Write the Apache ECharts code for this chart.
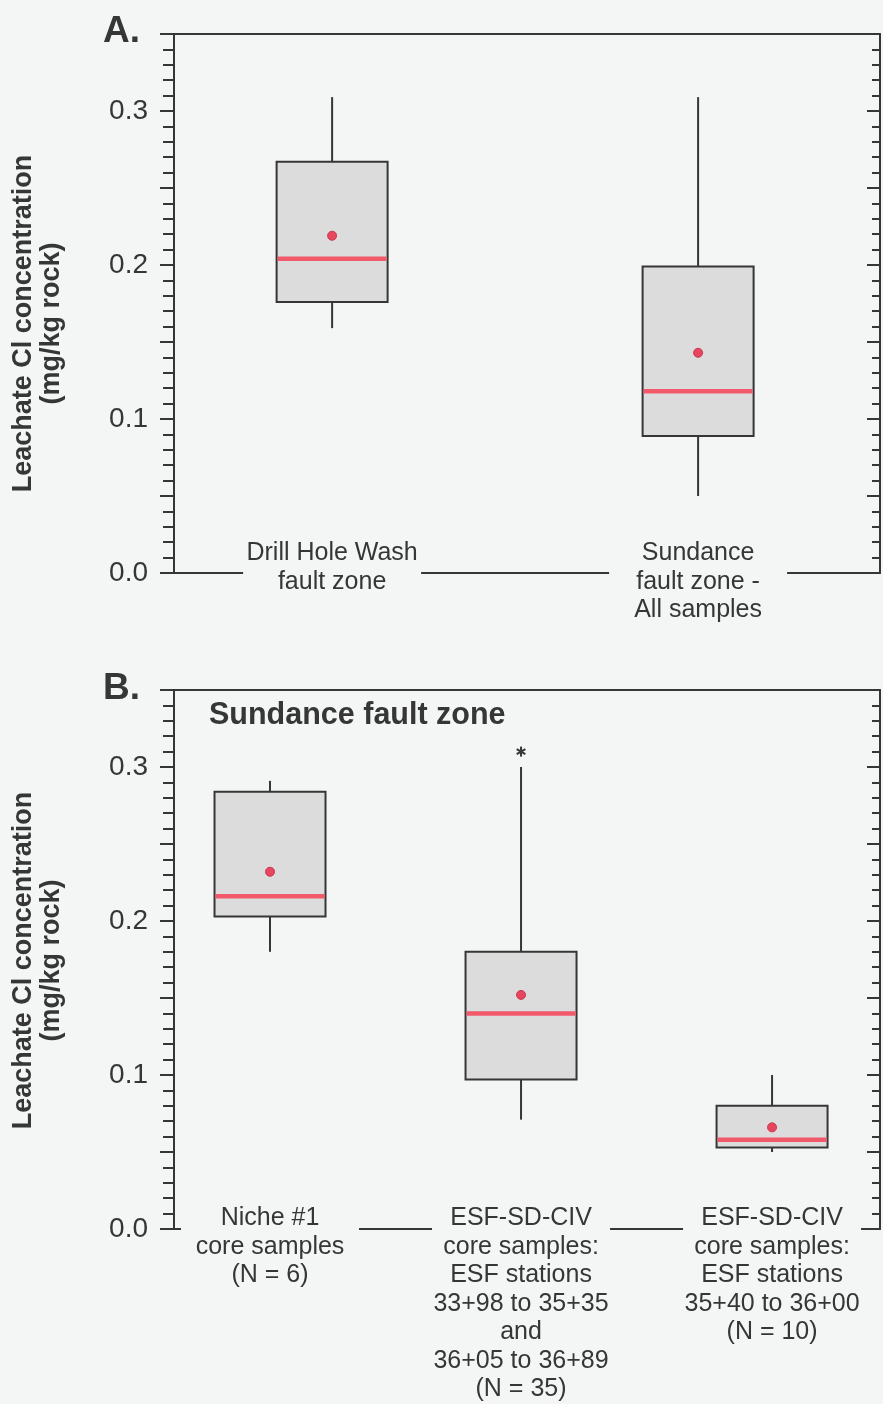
<!DOCTYPE html>
<html>
<head>
<meta charset="utf-8">
<script src="https://cdn.jsdelivr.net/npm/echarts@6/dist/echarts.min.js"></script>
<style>
  html, body { margin: 0; padding: 0; background: #f3f6f5; }
  #chart { width: 883px; height: 1404px; }
</style>
</head>
<body>
<div id="chart"></div>
<script>
// Panel A: fault-zone comparison
const panelACategories = ['Drill Hole Wash\nfault zone', 'Sundance\nfault zone -\nAll samples'];
const panelAWhiskerLow = [0.159, 0.050];
const panelAQ1 = [0.176, 0.089];
const panelAMedian = [0.204, 0.118];
const panelAQ3 = [0.267, 0.199];
const panelAWhiskerHigh = [0.309, 0.309];
const panelAMean = [0.219, 0.143];

// Panel B: Sundance fault zone sample groups
const panelBCategories = [
  'Niche #1\ncore samples\n(N = 6)',
  'ESF-SD-CIV\ncore samples:\nESF stations\n33+98 to 35+35\nand\n36+05 to 36+89\n(N = 35)',
  'ESF-SD-CIV\ncore samples:\nESF stations\n35+40 to 36+00\n(N = 10)'
];
const panelBWhiskerLow = [0.180, 0.071, 0.050];
const panelBQ1 = [0.203, 0.097, 0.053];
const panelBMedian = [0.216, 0.140, 0.058];
const panelBQ3 = [0.284, 0.180, 0.080];
const panelBWhiskerHigh = [0.291, 0.300, 0.100];
const panelBMean = [0.232, 0.152, 0.066];
const panelBOutliers = [[2, 0.310]];

const yTickValues = [0, 0.1, 0.2, 0.3];
const yAxisTitle = 'Leachate Cl concentration\n(mg/kg rock)';

const BG = '#f3f6f5';
const INK = '#363636';
const FONT = '"Liberation Sans", Arial, sans-serif';
const BOX_HALF = 55.5;

function boxRows(wl, q1, med, q3, wh, mean) {
  return wl.map((_, i) => [i + 1, wl[i], q1[i], med[i], q3[i], wh[i], mean[i]]);
}

// Box: whiskers, grey box, red median bar and mean dot
function renderBox(params, api) {
  const x = api.value(0);
  const pLow = api.coord([x, api.value(1)]);
  const pQ1 = api.coord([x, api.value(2)]);
  const pMed = api.coord([x, api.value(3)]);
  const pQ3 = api.coord([x, api.value(4)]);
  const pHigh = api.coord([x, api.value(5)]);
  const pMean = api.coord([x, api.value(6)]);
  const cx = pQ1[0];
  const lineStyle = { stroke: INK, lineWidth: 2 };
  return {
    type: 'group',
    children: [
      { type: 'line', shape: { x1: cx, y1: pQ3[1], x2: cx, y2: pHigh[1] }, style: lineStyle },
      { type: 'line', shape: { x1: cx, y1: pQ1[1], x2: cx, y2: pLow[1] }, style: lineStyle },
      { type: 'rect', shape: { x: cx - BOX_HALF, y: pQ3[1], width: BOX_HALF * 2, height: pQ1[1] - pQ3[1] },
        style: { fill: '#dcdcdc', stroke: INK, lineWidth: 2 } },
      { type: 'line', shape: { x1: cx - BOX_HALF + 1, y1: pMed[1], x2: cx + BOX_HALF - 1, y2: pMed[1] },
        style: { stroke: '#f25a6c', lineWidth: 4.5 } },
      { type: 'circle', shape: { cx: cx, cy: pMean[1], r: 4.5 },
        style: { fill: '#e8465f', stroke: '#c8384f', lineWidth: 1 } }
    ]
  };
}

// Outlier drawn as a small asterisk
function renderOutlier(params, api) {
  const p = api.coord([api.value(0), api.value(1)]);
  const s = 5;
  const st = { stroke: INK, lineWidth: 2 };
  return {
    type: 'group',
    children: [
      { type: 'line', shape: { x1: p[0], y1: p[1] - s, x2: p[0], y2: p[1] + s }, style: st },
      { type: 'line', shape: { x1: p[0] - s * 0.87, y1: p[1] - s * 0.5, x2: p[0] + s * 0.87, y2: p[1] + s * 0.5 }, style: st },
      { type: 'line', shape: { x1: p[0] - s * 0.87, y1: p[1] + s * 0.5, x2: p[0] + s * 0.87, y2: p[1] - s * 0.5 }, style: st }
    ]
  };
}

function bottomAxis(gridIndex, min, max, cats, margin) {
  return {
    type: 'value', gridIndex, min, max, position: 'bottom',
    axisLine: { show: true, lineStyle: { color: INK, width: 2 } },
    axisTick: { show: false },
    splitLine: { show: false },
    axisLabel: {
      customValues: cats.map((_, i) => i + 1),
      formatter: v => cats[Math.round(v) - 1] || '',
      margin, fontSize: 25, lineHeight: 28.5, color: INK, fontFamily: FONT,
      backgroundColor: BG, width: 178, align: 'center', verticalAlign: 'top', overflow: 'none'
    }
  };
}

function topAxis(gridIndex, min, max) {
  return {
    type: 'value', gridIndex, min, max, position: 'top',
    axisLine: { show: true, onZero: false, lineStyle: { color: INK, width: 2 } },
    axisTick: { show: false }, axisLabel: { show: false }, splitLine: { show: false }
  };
}

function leftAxis(gridIndex, padding) {
  return {
    type: 'value', gridIndex, min: 0, max: 0.35, interval: 0.05, position: 'left',
    name: yAxisTitle, nameLocation: 'middle', nameGap: 108, nameRotate: 90,
    nameTextStyle: { fontSize: 27, fontWeight: 'bold', lineHeight: 28, color: INK, fontFamily: FONT, padding },
    axisLine: { show: true, onZero: false, lineStyle: { color: INK, width: 2 } },
    axisTick: { show: true, length: 14, lineStyle: { color: INK, width: 2 } },
    minorTick: { show: true, splitNumber: 5, length: 11, lineStyle: { color: INK, width: 2 } },
    splitLine: { show: false }, minorSplitLine: { show: false },
    axisLabel: {
      margin: 26, fontSize: 28, color: INK, fontFamily: FONT,
      formatter: v => {
        const hit = yTickValues.find(t => Math.abs(t - v) < 1e-6);
        return hit === undefined ? '' : hit.toFixed(1);
      }
    }
  };
}

function rightAxis(gridIndex) {
  return {
    type: 'value', gridIndex, min: 0, max: 0.35, interval: 0.05, position: 'right',
    axisLine: { show: true, onZero: false, lineStyle: { color: INK, width: 2 } },
    axisTick: { show: true, inside: true, length: 13, lineStyle: { color: INK, width: 2 } },
    minorTick: { show: true, splitNumber: 5, length: 8, lineStyle: { color: INK, width: 2 } },
    splitLine: { show: false }, minorSplitLine: { show: false },
    axisLabel: { show: false }
  };
}

const A_MIN = 0.568, A_MAX = 2.497;
const B_MIN = 0.6175, B_MAX = 3.43;

const option = {
  backgroundColor: BG,
  animation: false,
  title: [
    { text: 'A.', left: 103, top: 13, padding: 0,
      textStyle: { fontSize: 37, fontWeight: 'bold', color: INK, fontFamily: FONT, lineHeight: 37 } },
    { text: 'B.', left: 103, top: 670, padding: 0,
      textStyle: { fontSize: 37, fontWeight: 'bold', color: INK, fontFamily: FONT, lineHeight: 37 } },
    { text: 'Sundance fault zone', left: 209, top: 700, padding: 0,
      textStyle: { fontSize: 30.5, fontWeight: 'bold', color: INK, fontFamily: FONT, lineHeight: 31 } }
  ],
  grid: [
    { left: 174, right: 3, top: 34, height: 539 },
    { left: 174, right: 3, top: 690, height: 539 }
  ],
  xAxis: [
    bottomAxis(0, A_MIN, A_MAX, panelACategories, -34),
    topAxis(0, A_MIN, A_MAX),
    bottomAxis(1, B_MIN, B_MAX, panelBCategories, -25),
    topAxis(1, B_MIN, B_MAX)
  ],
  yAxis: [
    leftAxis(0, [0, 40, 0, 0]),
    rightAxis(0),
    leftAxis(1, [0, 2, 0, 0]),
    rightAxis(1)
  ],
  series: [
    { type: 'custom', xAxisIndex: 0, yAxisIndex: 0, renderItem: renderBox, clip: false,
      data: boxRows(panelAWhiskerLow, panelAQ1, panelAMedian, panelAQ3, panelAWhiskerHigh, panelAMean) },
    { type: 'custom', xAxisIndex: 2, yAxisIndex: 2, renderItem: renderBox, clip: false,
      data: boxRows(panelBWhiskerLow, panelBQ1, panelBMedian, panelBQ3, panelBWhiskerHigh, panelBMean) },
    { type: 'custom', xAxisIndex: 2, yAxisIndex: 2, renderItem: renderOutlier, clip: false,
      data: panelBOutliers }
  ]
};

const chart = echarts.init(document.getElementById('chart'), null, { renderer: 'canvas' });
chart.setOption(option);
</script>
</body>
</html>
